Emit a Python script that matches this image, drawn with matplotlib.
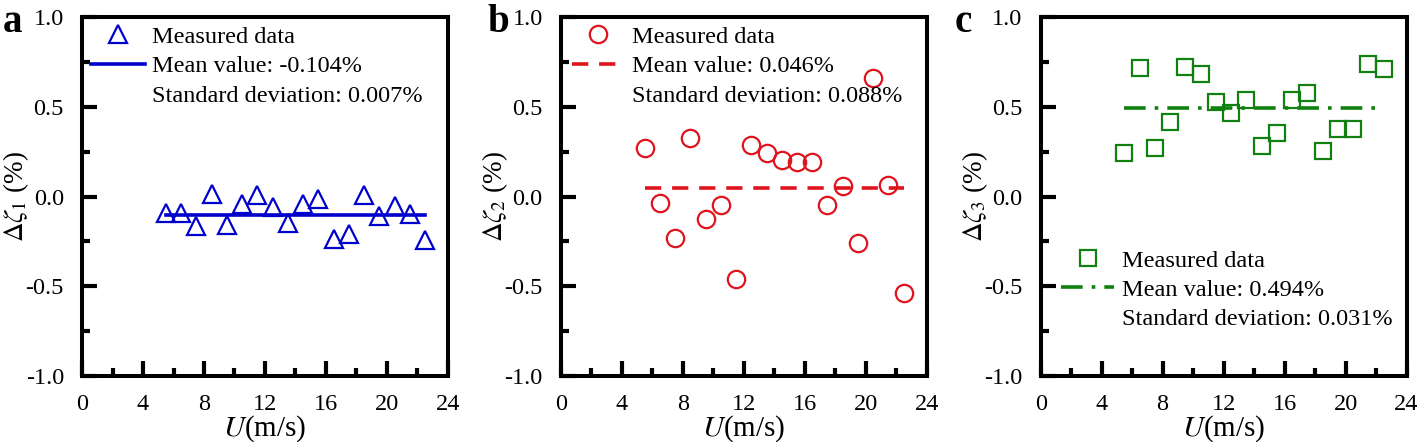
import matplotlib
matplotlib.use('Agg')
import matplotlib.pyplot as plt
from matplotlib.lines import Line2D
from matplotlib.ticker import MultipleLocator

plt.rcParams['font.family'] = ['Liberation Serif', 'DejaVu Serif']
plt.rcParams['mathtext.fontset'] = 'stix'

# wind speed (m/s), same for all three panels
u = [5.5, 6.5, 7.5, 8.5, 9.5, 10.5, 11.5, 12.5, 13.5,
     14.5, 15.5, 16.5, 17.5, 18.5, 19.5, 20.5, 21.5, 22.5]

dz1 = [-0.09, -0.09, -0.165, 0.015, -0.16, -0.04, 0.01, -0.06, -0.15,
       -0.04, -0.015, -0.235, -0.21, 0.01, -0.11, -0.055, -0.10, -0.245]
dz2 = [0.27, -0.035, -0.23, 0.325, -0.125, -0.045, -0.46, 0.285, 0.24,
       0.205, 0.195, 0.195, -0.05, 0.058, -0.257, 0.658, 0.065, -0.54]
dz3 = [0.242, 0.716, 0.27, 0.415, 0.72, 0.68, 0.526, 0.465, 0.535,
       0.28, 0.353, 0.539, 0.578, 0.253, 0.377, 0.377, 0.74, 0.71]

means = [-0.104, 0.046, 0.494]
stds = [0.007, 0.088, 0.031]

panel_letters = ['a', 'b', 'c']
ylabels = [r'$\Delta\zeta_1$ (%)', r'$\Delta\zeta_2$ (%)', r'$\Delta\zeta_3$ (%)']

series = [dz1, dz2, dz3]
colors = ['#0000cc', '#e0141e', '#108010']
markers = ['^', 'o', 's']
msizes = [13, 12.5, 11]
linestyles = ['-', (0, (4.5, 3)), (0, (6, 2.5, 1, 2.5))]
lefts = [0.0579, 0.3957, 0.7344]
legend_anchor = [(0.025, 0.975), (0.03, 0.975), (0.055, 0.352)]
letter_x = [0.0, 0.342, 0.672]

fig = plt.figure(figsize=(14.17, 4.42), dpi=100)

for i in range(3):
    ax = fig.add_axes([lefts[i], 0.1493, 0.2582, 0.8122])
    ax.plot(u, series[i], linestyle='none', marker=markers[i], ms=msizes[i],
            mfc='none', mec=colors[i], mew=1.6)
    ax.plot([u[0], u[-1]], [means[i], means[i]], color=colors[i], lw=2.6,
            linestyle=linestyles[i])

    ax.set_xlim(0, 24)
    ax.set_ylim(-1.0, 1.0)
    ax.xaxis.set_major_locator(MultipleLocator(4))
    ax.xaxis.set_minor_locator(MultipleLocator(2))
    ax.yaxis.set_major_locator(MultipleLocator(0.5))
    ax.yaxis.set_minor_locator(MultipleLocator(0.25))
    ax.yaxis.set_major_formatter(matplotlib.ticker.FuncFormatter(lambda v, p: '%.1f' % v))
    ax.tick_params(which='major', direction='in', length=11, width=3, labelsize=17.5, pad=13)
    ax.tick_params(which='minor', direction='in', length=5.5, width=3)
    ax.tick_params(top=False, right=False, which='both')
    for s in ax.spines.values():
        s.set_linewidth(2.9)

    ax.set_xlabel(r'$U$(m/s)', fontsize=21, labelpad=-1)
    ax.set_ylabel(ylabels[i], fontsize=19.5, labelpad=-4)

    handles = [
        Line2D([], [], linestyle='none', marker=markers[i], ms=msizes[i],
               mfc='none', mec=colors[i], mew=1.6),
        Line2D([], [], color=colors[i], lw=2.6, linestyle=linestyles[i]),
        Line2D([], [], linestyle='none'),
    ]
    labels = ['Measured data',
              'Mean value: %.3f%%' % means[i],
              'Standard deviation: %.3f%%' % stds[i]]
    ax.legend(handles, labels, loc='upper left', bbox_to_anchor=legend_anchor[i],
              frameon=False, fontsize=17.5, handlelength=2.2, handletextpad=0.3,
              labelspacing=0.3, borderpad=0, borderaxespad=0)

    fig.text(letter_x[i] + 0.002, 0.99, panel_letters[i], fontsize=28,
             fontweight='bold', va='top', ha='left')

fig.savefig('out.png', dpi=100)
